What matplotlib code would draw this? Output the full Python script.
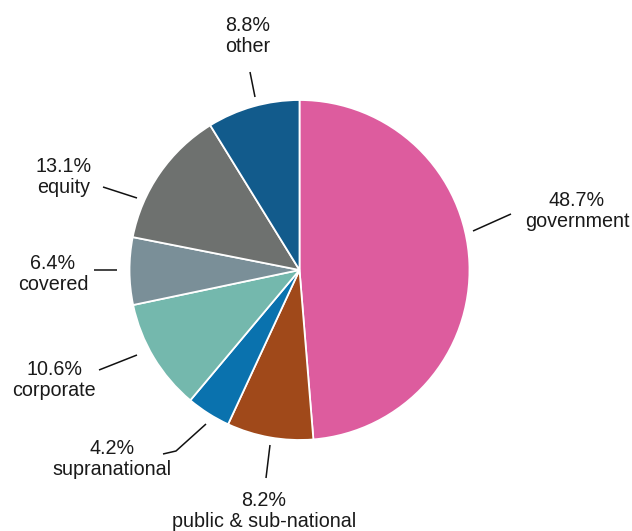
import matplotlib
matplotlib.use("Agg")
import matplotlib.pyplot as plt

categories = ["government", "public & sub-national", "supranational", "corporate",
              "covered", "equity", "other"]
values = [48.7, 8.2, 4.2, 10.6, 6.4, 13.1, 8.8]
colors = ["#DD5C9E", "#A0491A", "#0A72AE", "#74B8AD", "#7A8F98", "#6E716F", "#125B8C"]

# layout (pixel coordinates, image space: y downward)
W, H = 632, 531
center = (299.5, 270)
radius = 170
label_pos = [(577, 211), (264, 511), (112, 459), (54, 380), (53, 274), (64, 177), (248, 36)]
leaders = [
    [(473, 231), (511, 214)],
    [(270, 445), (266, 478)],
    [(206, 424), (176, 451), (163, 454)],
    [(137, 355), (99, 370)],
    [(117, 270), (94, 270)],
    [(137, 198), (103, 187)],
    [(255, 97), (250, 72)],
]

plt.rcParams['font.family'] = ['Liberation Sans', 'DejaVu Sans']
fig = plt.figure(figsize=(W / 100, H / 100), dpi=100)
ax = fig.add_axes([0, 0, 1, 1])
ax.set_xlim(0, W)
ax.set_ylim(H, 0)
ax.set_aspect('equal')
ax.axis('off')

ax.pie(values, colors=colors, startangle=-90, counterclock=True,
       center=center, radius=radius,
       wedgeprops=dict(edgecolor='white', linewidth=1.3))
ax.set_xlim(0, W)
ax.set_ylim(H, 0)

for cat, val, (x, y), pts in zip(categories, values, label_pos, leaders):
    ax.text(x, y, f"{val:.1f}%\n{cat}", ha='center', va='center',
            fontsize=14.2, color='#1a1a1a', linespacing=1.15)
    xs = [p[0] for p in pts]
    ys = [p[1] for p in pts]
    ax.plot(xs, ys, color='#111111', linewidth=1.1, solid_capstyle='butt')

fig.savefig("out.png", dpi=100)
